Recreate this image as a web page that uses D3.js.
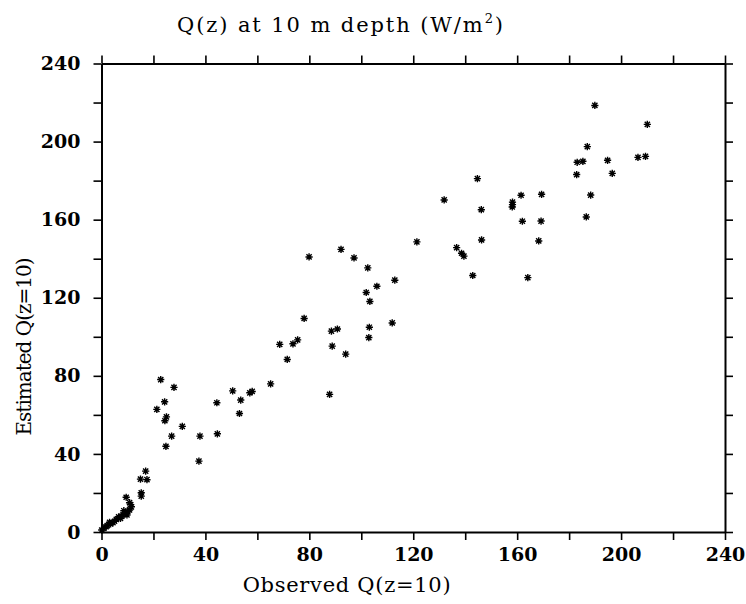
<!DOCTYPE html>
<html>
<head>
<meta charset="utf-8">
<script src="https://cdn.jsdelivr.net/npm/d3@7"></script>
<style>
  body { margin: 0; background: #fff; }
  svg { display: block; }
</style>
</head>
<body>
<svg width="746" height="604"></svg>
<script>
// observed / estimated Q at 10 m
var obsX = [0.1, 0.9, 1.8, 2.2, 3.1, 3.5, 4.4, 5.0, 5.7, 6.6, 7.3, 7.8, 8.2, 9.8, 8.6, 10.1, 10.8, 11.5, 11.2, 10.8,
            9.5, 15.3, 15.3, 15.0, 17.5, 17.0,
            22.8, 27.9, 24.3, 44.4, 21.3, 25.0, 24.4, 31.1, 27.0, 37.9, 44.6, 24.8, 37.5,
            79.9, 97.2, 102.5, 106.0, 101.9, 103.3, 78.0, 88.5, 90.8, 103.1, 102.9, 68.6, 73.7, 75.5, 88.8, 94.0,
            71.5, 65.1, 50.5, 57.1, 58.0, 53.6, 53.1, 87.8, 92.2,
            144.7, 131.9, 161.5, 169.4, 158.2, 158.2, 158.1, 146.2, 162.0, 169.2, 121.4, 146.3, 168.3, 136.7,
            138.6, 139.5, 112.9, 142.9, 164.1, 111.9,
            189.9, 210.1, 187.0, 183.1, 185.3, 194.8, 206.5, 209.4, 182.9, 196.6, 188.3, 186.6];
var estY = [1.0, 1.9, 2.7, 3.3, 5.0, 4.1, 4.8, 5.5, 6.5, 7.8, 7.0, 8.0, 8.7, 8.7, 10.9, 10.4, 11.3, 12.9, 14.0, 15.0,
            17.8, 18.4, 20.1, 27.1, 26.8, 31.2,
            78.1, 74.1, 66.7, 66.2, 62.8, 59.0, 57.0, 54.1, 49.1, 49.1, 50.3, 43.9, 36.3,
            140.9, 140.4, 135.3, 125.9, 122.7, 118.1, 109.4, 102.9, 104.0, 104.9, 99.6, 96.1, 96.4, 98.4, 95.2, 91.1,
            88.4, 75.9, 72.3, 71.3, 72.0, 67.6, 60.7, 70.5, 144.8,
            181.0, 170.1, 172.5, 173.0, 169.0, 167.7, 166.5, 165.1, 159.2, 159.3, 148.6, 149.6, 149.1, 145.7,
            142.8, 141.3, 129.0, 131.4, 130.3, 107.1,
            218.5, 208.8, 197.4, 189.4, 189.9, 190.4, 191.9, 192.4, 183.1, 183.7, 172.6, 161.4];

var tickVals = [0, 20, 40, 60, 80, 100, 120, 140, 160, 180, 200, 220, 240];
var labelVals = [0, 40, 80, 120, 160, 200, 240];

var svg = d3.select("svg");
var pLeft = 101.5, pRight = 725, pTop = 63.5, pBottom = 532;

var x = d3.scaleLinear().domain([0, 240]).range([pLeft, pRight]);
var y = d3.scaleLinear().domain([0, 240]).range([pBottom, pTop]);

var numFmt = function (d) { return labelVals.indexOf(d) >= 0 ? d : ""; };
var noFmt = function () { return ""; };

svg.append("g").attr("transform", "translate(0," + pBottom + ")")
    .call(d3.axisBottom(x).tickValues(tickVals).tickSize(8).tickSizeOuter(0).tickPadding(8).tickFormat(numFmt));
svg.append("g").attr("transform", "translate(0," + pTop + ")")
    .call(d3.axisTop(x).tickValues(tickVals).tickSize(8).tickSizeOuter(0).tickFormat(noFmt));
svg.append("g").attr("transform", "translate(" + pLeft + ",0)")
    .call(d3.axisLeft(y).tickValues(tickVals).tickSize(8).tickSizeOuter(0).tickPadding(13).tickFormat(numFmt));
svg.append("g").attr("transform", "translate(" + pRight + ",0)")
    .call(d3.axisRight(y).tickValues(tickVals).tickSize(8).tickSizeOuter(0).tickFormat(noFmt));

svg.selectAll(".domain").attr("stroke", "#000").attr("stroke-width", 2);
svg.selectAll(".tick line").attr("stroke", "#000").attr("stroke-width", 1.6);
svg.selectAll(".tick text")
    .attr("fill", "#000")
    .style("font-family", "DejaVu Serif")
    .style("font-weight", "bold")
    .style("font-size", "19px");

// asterisk markers
var star = "M0,-3.6V3.6M-3.6,0H3.6M-2.6,-2.6L2.6,2.6M-2.6,2.6L2.6,-2.6";
svg.append("g").selectAll("path")
    .data(obsX)
    .enter().append("path")
    .attr("d", star)
    .attr("transform", function (d, i) { return "translate(" + x(d) + "," + y(estY[i]) + ")"; })
    .attr("stroke", "#000")
    .attr("stroke-width", 1.4)
    .attr("fill", "none");

function fitText(sel, target) {
    var node = sel.node();
    var len = node.getComputedTextLength();
    var n = node.textContent.length;
    sel.style("letter-spacing", ((target - len) / (n - 1)) + "px");
}

var labFont = "DejaVu Serif";

var title = svg.append("text")
    .attr("x", 341).attr("y", 32)
    .attr("text-anchor", "middle")
    .style("font-family", labFont)
    .style("font-size", "21px");
title.append("tspan").text("Q(z) at 10 m depth (W/m");
title.append("tspan").text("2").attr("dy", -9).style("font-size", "13px");
title.append("tspan").text(")").attr("dy", 9);
fitText(title, 326);

var xlab = svg.append("text")
    .attr("x", 347).attr("y", 592)
    .attr("text-anchor", "middle")
    .style("font-family", labFont)
    .style("font-size", "21px")
    .text("Observed Q(z=10)");
fitText(xlab, 208);

var ylab = svg.append("text")
    .attr("transform", "translate(31,347) rotate(-90)")
    .attr("text-anchor", "middle")
    .style("font-family", labFont)
    .style("font-size", "20px")
    .text("Estimated Q(z=10)");
fitText(ylab, 178);
</script>
</body>
</html>
